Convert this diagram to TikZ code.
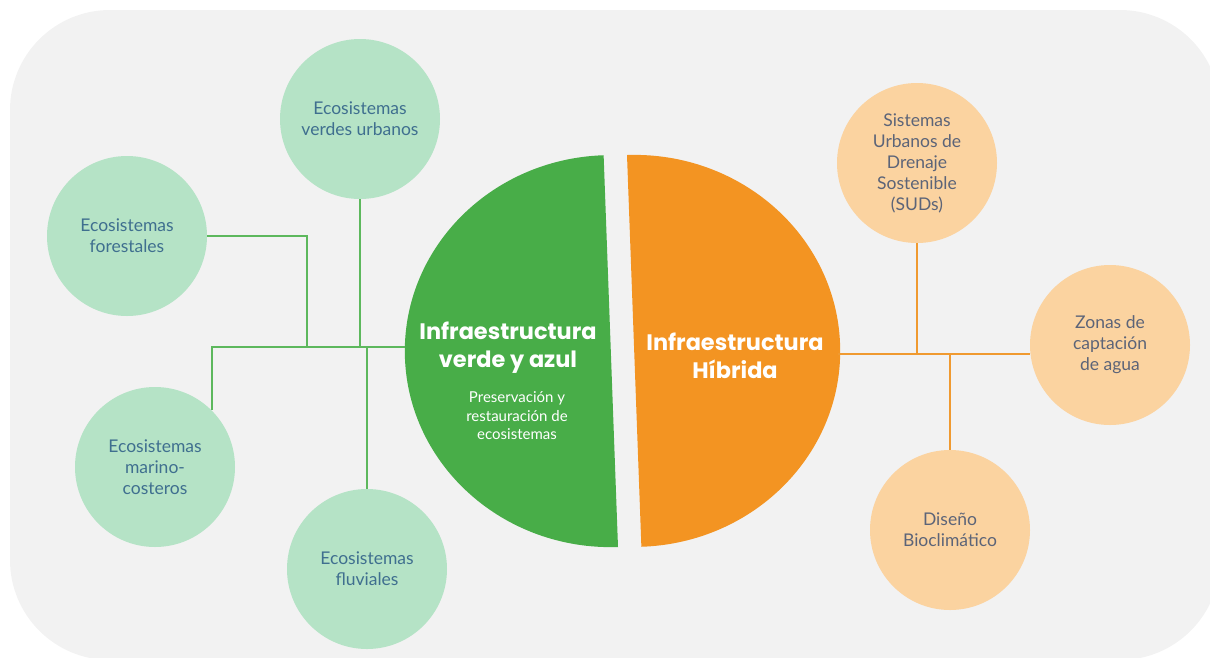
\documentclass[tikz,border=0pt]{standalone}
\usepackage{fontspec}
\usepackage{tikz}
\usetikzlibrary{positioning,calc}
\setmainfont{Lato}
\newfontfamily\headfont{Poppins}
\definecolor{Panel}{HTML}{F2F2F2}
\definecolor{Verde}{HTML}{48AD48}
\definecolor{VerdeSoft}{HTML}{B5E3C6}
\definecolor{VerdeLine}{HTML}{5DB85D}
\definecolor{VerdeInk}{HTML}{3F6F8F}
\definecolor{Naranja}{HTML}{F39422}
\definecolor{NaranjaSoft}{HTML}{FBD3A0}
\definecolor{NaranjaLine}{HTML}{F09A30}
\definecolor{NaranjaInk}{HTML}{5C6478}
\tikzset{
  eco/.style={circle,fill=VerdeSoft,draw=none,minimum size=160pt,inner sep=0pt,
    align=center,text=VerdeInk,font=\fontsize{17.5}{21}\selectfont},
  hib/.style={eco,fill=NaranjaSoft,text=NaranjaInk},
  head/.style={align=center,text=white,font=\headfont\bfseries\fontsize{22.4}{28}\selectfont},
  sub/.style={align=center,text=white,font=\fontsize{15}{18.5}\selectfont},
  glink/.style={draw=VerdeLine,line width=2pt},
  olink/.style={draw=NaranjaLine,line width=2pt}
}

\begin{document}
\begin{tikzpicture}[x=1pt,y=-1pt]
  \useasboundingbox (0,0) rectangle (1210,657);
  \fill[Panel,rounded corners=100pt] (10,10) rectangle (1220,660);

  % the two halves
  \fill[Verde] (618,547) arc[start angle=88,end angle=268,x radius=206,y radius=196] -- cycle;
  \fill[Naranja] (627,155) arc[start angle=-92,end angle=88,x radius=206,y radius=196] -- cycle;
  \node[head] (verde) at (508,348) {Infraestructura\\verde y azul};
  \node[sub] (pres) at (517,416) {Preservación y\\restauración de\\ecosistemas};
  \node[head] (hibrida) at (735,356) {Infraestructura\\Híbrida};

  % green side
  \node[eco] (urbano) at (360,119) {Ecosistemas\\verdes urbanos};
  \node[eco] (forest) at (127,236) {Ecosistemas\\forestales};
  \node[eco] (marino) at (155,467) {Ecosistemas\\marino-\\costeros};
  \node[eco] (fluvial) at (367,569) {Ecosistemas\\fluviales};
  \coordinate (gbus) at (405,347);
  \coordinate (gj) at (307,347);
  \draw[glink] (gbus) -| (marino.north east);
  \draw[glink] (forest.east) -| (gj);
  \draw[glink] (urbano.south) -- (urbano.south |- gbus);
  \draw[glink] (fluvial.north) -- (fluvial.north |- gbus);

  % orange side
  \node[hib] (suds) at (917,163) {Sistemas\\Urbanos de\\Drenaje\\Sostenible\\(SUDs)};
  \node[hib] (zonas) at (1110,345) {Zonas de\\captación\\de agua};
  \node[hib] (diseno) at (950,530) {Diseño\\Bioclimático};
  \coordinate (obus) at (838,354);
  \draw[olink] (obus) -- (obus -| zonas.west);
  \draw[olink] (suds.south) -- (suds.south |- obus);
  \draw[olink] (diseno.north) -- (diseno.north |- obus);
\end{tikzpicture}
\end{document}
